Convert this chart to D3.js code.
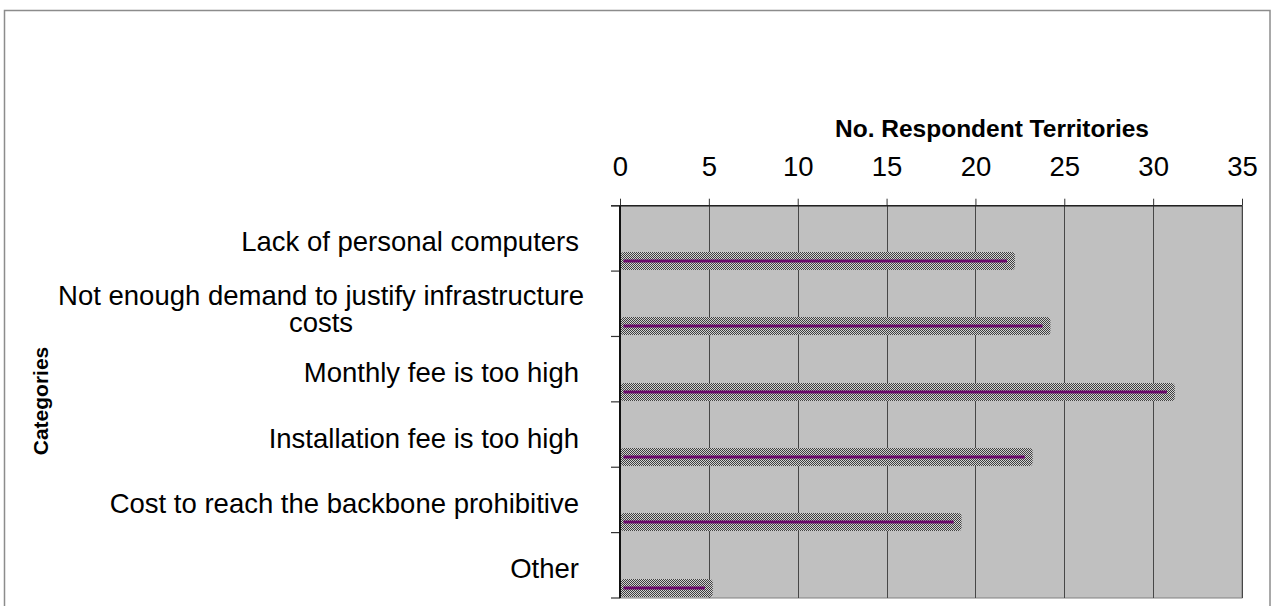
<!DOCTYPE html>
<html><head><meta charset="utf-8">
<script src="https://cdn.jsdelivr.net/npm/d3@7"></script>
<style>
html,body{margin:0;padding:0;background:#fff;overflow:hidden;}
text{font-family:"Liberation Sans",Arial,sans-serif;fill:#000;}
</style></head>
<body>
<svg id="chart" width="1274" height="606"></svg>
<script>
const categories = [
  ["Lack of personal computers"],
  ["Not enough demand to justify infrastructure", "costs"],
  ["Monthly fee is too high"],
  ["Installation fee is too high"],
  ["Cost to reach the backbone prohibitive"],
  ["Other"]
];
const values = [22, 24, 31, 23, 19, 5];
const xTicks = [0, 5, 10, 15, 20, 25, 30, 35];
const xTitle = "No. Respondent Territories";
const yTitle = "Categories";

const svg = d3.select("#chart");
const plot = {left: 620, top: 205.7, right: 1242, bottom: 598};

// outer frame
svg.append("rect").attr("x", 4.5).attr("y", 10.5).attr("width", 1265.5).attr("height", 620)
  .attr("fill", "#fff").attr("stroke", "#8c8c8c").attr("stroke-width", 1.5);

// pattern
const defs = svg.append("defs");
const pat = defs.append("pattern").attr("id", "chk").attr("patternUnits", "userSpaceOnUse")
  .attr("width", 2).attr("height", 2);
pat.append("rect").attr("width", 2).attr("height", 2).attr("fill", "#d2d2d2");
pat.append("rect").attr("width", 1).attr("height", 1).attr("fill", "#3e3e3e");
pat.append("rect").attr("x", 1).attr("y", 1).attr("width", 1).attr("height", 1).attr("fill", "#3e3e3e");

const x = d3.scaleLinear().domain([0, 35]).range([plot.left, plot.right]);
const keys = categories.map((c, i) => i);
const y = d3.scaleBand().domain(keys).range([plot.top, plot.bottom]).padding(0);
const bw = y.bandwidth();

// plot background
svg.append("rect").attr("x", plot.left).attr("y", plot.top)
  .attr("width", plot.right - plot.left).attr("height", plot.bottom - plot.top)
  .attr("fill", "#c0c0c0").attr("stroke", "#808080").attr("stroke-width", 1);

// grid lines
svg.append("g").selectAll("line").data(xTicks.slice(1)).join("line")
  .attr("x1", d => Math.round(x(d)) + 0.5).attr("x2", d => Math.round(x(d)) + 0.5)
  .attr("y1", plot.top).attr("y2", plot.bottom)
  .attr("stroke", "#474747").attr("stroke-width", 1);

// bars
const bars = svg.append("g");
bars.selectAll("rect").data(values).join("rect")
  .attr("x", plot.left + 0.5)
  .attr("y", (d, i) => Math.round(y(i) + bw * 0.705))
  .attr("width", d => x(d) + 3.4 - plot.left)
  .attr("height", 18)
  .attr("rx", 3.5).attr("ry", 3.5)
  .attr("fill", "url(#chk)");
bars.selectAll("line").data(values).join("line")
  .attr("x1", plot.left + 3.5)
  .attr("x2", d => x(d) - 4)
  .attr("y1", (d, i) => Math.round(y(i) + bw * 0.705) + 9)
  .attr("y2", (d, i) => Math.round(y(i) + bw * 0.705) + 9)
  .attr("stroke", "#6a0a6a").attr("stroke-width", 3);

// top axis
const xAxis = d3.axisTop(x).tickValues(xTicks).tickSize(7).tickPadding(23).tickFormat(d3.format("d"));
const gx = svg.append("g").attr("transform", `translate(0,${plot.top})`).call(xAxis);
gx.select(".domain").remove();
gx.selectAll(".tick line").attr("stroke", "#333").attr("stroke-width", 1);
gx.selectAll(".tick text").attr("font-size", 27.5).attr("fill", "#000").style("font-family", "Liberation Sans, Arial, sans-serif");
svg.append("line").attr("x1", 611).attr("x2", plot.right).attr("y1", plot.top).attr("y2", plot.top)
  .attr("stroke", "#222").attr("stroke-width", 1.5);

// left axis line and ticks
const leftTicks = keys.map(k => y(k)).concat([plot.bottom]);
svg.append("g").selectAll("line").data(leftTicks).join("line")
  .attr("x1", 611).attr("x2", plot.left).attr("y1", d => d).attr("y2", d => d)
  .attr("stroke", "#333").attr("stroke-width", 1.2);
svg.append("line").attr("x1", plot.left).attr("x2", plot.left).attr("y1", plot.top).attr("y2", plot.bottom)
  .attr("stroke", "#111").attr("stroke-width", 2);

// category labels
const lab = svg.append("g").attr("font-size", 27.5);
categories.forEach((lines, i) => {
  const cy = y(i) + bw / 2;
  if (lines.length === 1) {
    lab.append("text").attr("x", 579).attr("y", cy + 13).attr("text-anchor", "end").text(lines[0]);
  } else {
    lines.forEach((l, j) => {
      lab.append("text").attr("x", 321).attr("y", cy + 1 + j * 27).attr("text-anchor", "middle").text(l);
    });
  }
});

// titles
svg.append("text").attr("x", 992).attr("y", 137).attr("text-anchor", "middle")
  .attr("font-size", 24.5).attr("font-weight", "bold").text(xTitle);
svg.append("text").attr("transform", "translate(48,401) rotate(-90)").attr("text-anchor", "middle")
  .attr("font-size", 21).attr("font-weight", "bold").text(yTitle);
</script>
</body></html>
